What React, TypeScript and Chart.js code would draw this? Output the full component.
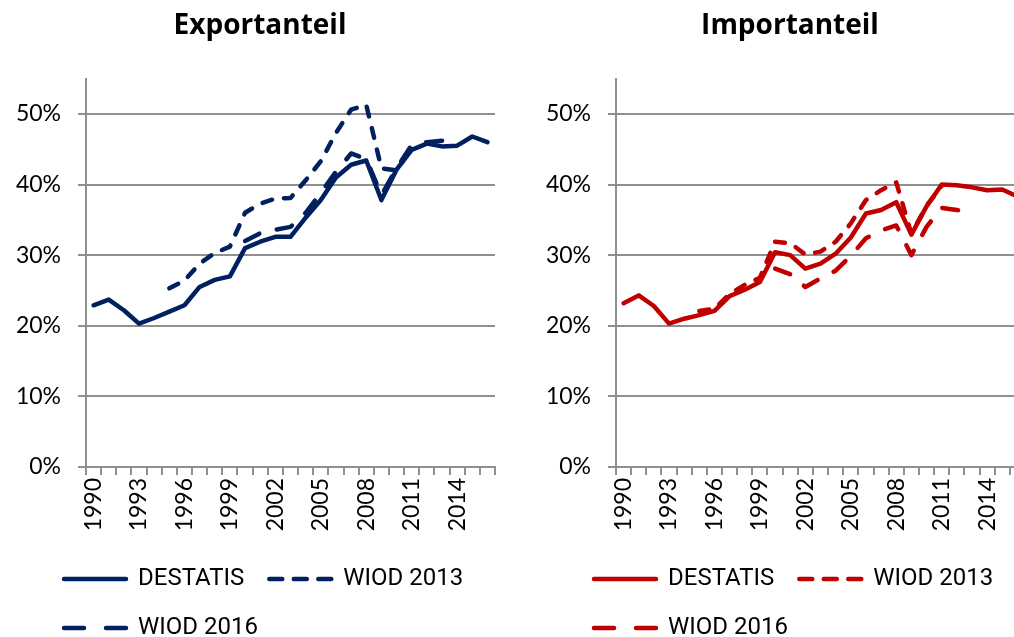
import React, { useEffect, useRef } from "react";
import { Chart, registerables } from "chart.js";

Chart.register(...registerables);

const years = [
  "1990", "1991", "1992", "1993", "1994", "1995", "1996", "1997", "1998",
  "1999", "2000", "2001", "2002", "2003", "2004", "2005", "2006", "2007",
  "2008", "2009", "2010", "2011", "2012", "2013", "2014", "2015", "2016",
];

const seriesNames = ["DESTATIS", "WIOD 2013", "WIOD 2016"];

// Exportanteil (%)
const exportDestatis = [
  22.9, 23.7, 22.2, 20.3, 21.1, 22.0, 22.9, 25.5, 26.5, 27.0, 31.0, 31.9, 32.6,
  32.6, 35.3, 37.8, 41.0, 42.8, 43.4, 37.8, 42.1, 44.9, 45.8, 45.4, 45.5, 46.8, 46.0,
];
const exportWiod2013 = [
  null, null, null, null, null, 25.3, 26.4, 28.8, 30.3, 31.2, 36.0, 37.3, 38.0,
  38.1, 40.6, 43.3, 47.3, 50.6, 51.3, 42.3, 42.0, 45.2, null, null, null, null, null,
];
const exportWiod2016 = [
  null, null, null, null, null, null, null, null, null, null, 32.0, 33.1, 33.6,
  34.0, 36.0, 38.8, 41.8, 44.4, 43.6, 38.5, 42.3, 45.6, 46.0, 46.2, 46.4, null, null,
];

// Importanteil (%)
const importDestatis = [
  23.2, 24.3, 22.8, 20.3, 21.0, 21.5, 22.1, 24.2, 25.1, 26.2, 30.4, 30.0, 28.1,
  28.8, 30.2, 32.5, 35.9, 36.4, 37.5, 32.9, 36.9, 40.0, 39.9, 39.6, 39.2, 39.3, 38.3,
];
const importWiod2013 = [
  null, null, null, null, null, 22.1, 22.4, 24.5, 25.8, 26.8, 31.9, 31.7, 30.1,
  30.5, 31.9, 34.5, 37.8, 39.2, 40.3, 33.0, 37.0, 39.8, null, null, null, null, null,
];
const importWiod2016 = [
  null, null, null, null, null, null, null, null, null, null, 28.1, 27.3, 25.5,
  26.7, 27.8, 29.9, 32.4, 33.5, 34.2, 30.0, 34.0, 36.7, 36.4, 36.1, null, null, null,
];

const yTicksMax = 55;
const yStep = 10;

const NAVY = "#002060";
const RED = "#C00000";
const GRID = "#909090";
const FONT = "Lato, 'Noto Sans', sans-serif";
const TITLE_FONT = "'Open Sans', Lato, sans-serif";
const LEGEND_FONT = "Roboto, Lato, sans-serif";

const plotDash2013 = [10, 12];
const plotDash2016 = [16, 18];
const legendDash2013 = [13, 11.5];
const legendDash2016 = [20, 22];

const legendShift = {
  id: "legendShift",
  afterLayout(chart: any) {
    if (chart.legend) chart.legend.left = 39;
  },
};

function buildConfig(title: string, color: string, data: (number | null)[][]) {
  const dashes = [[], plotDash2013, plotDash2016];
  const legendDashes = [[], legendDash2013, legendDash2016];
  return {
    type: "line" as const,
    data: {
      labels: years,
      datasets: data.map((d, i) => ({
        label: seriesNames[i],
        data: d,
        borderColor: color,
        backgroundColor: color,
        borderWidth: 4.5,
        borderDash: dashes[i],
        borderCapStyle: "round" as const,
        borderJoinStyle: "round" as const,
        pointRadius: 0,
        pointHoverRadius: 0,
        tension: 0,
        spanGaps: false,
        fill: false,
      })),
    },
    options: {
      responsive: false,
      animation: false as const,
      events: [],
      layout: { padding: 0 },
      plugins: {
        tooltip: { enabled: false },
        title: {
          display: true,
          text: title,
          color: "#000",
          font: { family: TITLE_FONT, size: 28, weight: "bold" as const, lineHeight: 1.2 },
          padding: { top: 9, bottom: 36 },
        },
        legend: {
          display: true,
          position: "bottom" as const,
          align: "start" as const,
          labels: {
            color: "#000",
            font: { family: LEGEND_FONT, size: 24 },
            usePointStyle: true,
            pointStyle: "line",
            pointStyleWidth: 62,
            padding: 25,
            generateLabels: (chart: any) => {
              const items = Chart.defaults.plugins.legend.labels.generateLabels(chart);
              return items.map((it: any, i: number) => ({
                ...it,
                lineDash: legendDashes[i],
                lineCap: "round",
                pointStyle: "line",
              }));
            },
          },
        },
      },
      scales: {
        x: {
          type: "category" as const,
          offset: true,
          grid: {
            offset: true,
            drawOnChartArea: false,
            drawTicks: true,
            tickLength: 8,
            color: GRID,
            lineWidth: 2,
          },
          border: { color: GRID, width: 2 },
          ticks: {
            autoSkip: false,
            maxRotation: 90,
            minRotation: 90,
            padding: 3,
            color: "#000",
            font: { family: FONT, size: 23 },
            callback: (_v: any, index: number) => (index % 3 === 0 ? years[index] : ""),
          },
          afterFit: (scale: any) => {
            scale.height = 75;
            scale.paddingRight = 25;
          },
        },
        y: {
          min: 0,
          max: yTicksMax,
          grid: {
            color: GRID,
            lineWidth: 2,
            drawTicks: true,
            tickLength: 8,
          },
          border: { color: GRID, width: 2 },
          ticks: {
            stepSize: yStep,
            includeBounds: false,
            padding: 17,
            color: "#000",
            font: { family: FONT, size: 23 },
            callback: (v: any) => `${v}%`,
          },
          afterFit: (scale: any) => {
            scale.width = 86;
          },
        },
      },
    },
    plugins: [legendShift],
  };
}

function LineChart({ title, color, data, left }: { title: string; color: string; data: (number | null)[][]; left: number }) {
  const ref = useRef<HTMLCanvasElement>(null);
  useEffect(() => {
    if (!ref.current) return;
    const chart = new Chart(ref.current, buildConfig(title, color, data) as any);
    return () => chart.destroy();
  }, []);
  return (
    <canvas
      ref={ref}
      width={520}
      height={650}
      style={{ position: "absolute", left, top: 0, width: 520, height: 650 }}
    />
  );
}

export default function App() {
  return (
    <div
      style={{
        position: "absolute",
        left: 0,
        top: 0,
        width: 1014,
        height: 637,
        overflow: "hidden",
        background: "#fff",
      }}
    >
      <LineChart title="Exportanteil" color={NAVY} data={[exportDestatis, exportWiod2013, exportWiod2016]} left={0} />
      <LineChart title="Importanteil" color={RED} data={[importDestatis, importWiod2013, importWiod2016]} left={530} />
    </div>
  );
}
